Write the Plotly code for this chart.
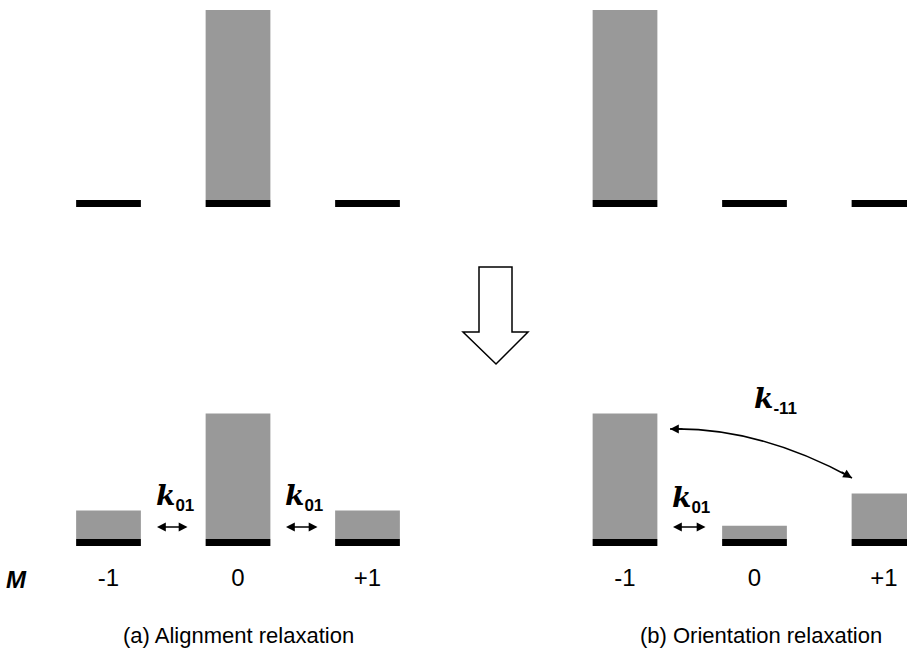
import plotly.graph_objects as go

# ---------------- data ----------------
M_VALUES = [-1, 0, 1]
M_TICKS = ["-1", "0", "+1"]

# populations (relative, initial max = 1)
top_alignment = [0.0, 1.0, 0.0]
top_orientation = [1.0, 0.0, 0.0]
bottom_alignment = [0.15, 0.66, 0.15]
bottom_orientation = [0.66, 0.07, 0.24]

caption_a = "(a) Alignment relaxation"
caption_b = "(b) Orientation relaxation"

# ---------------- layout helpers (pixel geometry) ----------------
W, H = 907, 653
def fx(px):
    return px / W
def fy(py):
    return 1 - py / H

SCALE = 190.0      # px per population unit
UNIT_X = 129.5     # px per M step
LEVEL = 7 / SCALE  # thickness of the black level line (in data units)
GRAY = "#999999"
SANS = "Liberation Sans, Arial, sans-serif"

fig = go.Figure()

panels = [
    # (values, xaxis, yaxis, center of M=-1 px, baseline px, top px, bottom px, show ticks)
    (top_alignment, "x", "y", 108.5, 200, 0, 215, False),
    (top_orientation, "x2", "y2", 625.0, 200, 0, 215, False),
    (bottom_alignment, "x3", "y3", 108.5, 539, 380, 552, True),
    (bottom_orientation, "x4", "y4", 625.0, 539, 380, 552, True),
]

for i, (vals, xa, ya, c0, base, ptop, pbot, show) in enumerate(panels):
    fig.add_trace(go.Bar(x=M_VALUES, y=vals, base=0, width=0.5,
                         marker=dict(color=GRAY, line=dict(width=0)),
                         xaxis=xa, yaxis=ya, showlegend=False, hoverinfo="skip"))
    fig.add_trace(go.Bar(x=M_VALUES, y=[LEVEL] * len(M_VALUES), base=-LEVEL, width=0.5,
                         marker=dict(color="black", line=dict(width=0)),
                         xaxis=xa, yaxis=ya, showlegend=False, hoverinfo="skip"))
    x_left_px = c0 - 0.5 * UNIT_X
    x_right_px = min(x_left_px + 3 * UNIT_X, W)
    xr = [-1.5, -1.5 + (x_right_px - x_left_px) / UNIT_X]
    yr = [-(pbot - base) / SCALE, (base - ptop) / SCALE]
    suffix = "" if i == 0 else str(i + 1)
    fig.layout["xaxis" + suffix] = dict(
        domain=[fx(x_left_px), fx(x_right_px)], range=xr, anchor=ya,
        showgrid=False, zeroline=False, showline=False, ticks="",
        showticklabels=show, tickmode="array", tickvals=M_VALUES, ticktext=M_TICKS,
        tickfont=dict(family=SANS, size=24, color="black"),
        ticklabelstandoff=9, fixedrange=True)
    fig.layout["yaxis" + suffix] = dict(
        domain=[fy(pbot), fy(ptop)], range=yr, anchor=xa,
        showgrid=False, zeroline=False, showline=False, showticklabels=False,
        ticks="", fixedrange=True)

fig.update_layout(barmode="overlay")

ann_font = dict(family=SANS, size=22, color="black")
m_font = dict(family=SANS, size=24, color="black")
k_font = dict(family="DejaVu Serif, serif", size=28, color="black")

def k_label(sub):
    return ("<b><i>k</i></b><sub><span style='font-family:Liberation Sans, Arial, sans-serif;"
            "font-weight:bold;font-size:17px'>" + sub + "</span></sub>")

annotations = [
    dict(x=fx(16), y=fy(579), text="<b><i>M</i></b>", font=m_font),
    dict(x=fx(239), y=fy(635), text=caption_a, font=ann_font),
    dict(x=fx(761), y=fy(635), text=caption_b, font=ann_font),
    dict(x=fx(175), y=fy(497), text=k_label("01"), font=k_font),
    dict(x=fx(304), y=fy(497), text=k_label("01"), font=k_font),
    dict(x=fx(691), y=fy(499), text=k_label("01"), font=k_font),
    dict(x=fx(775), y=fy(400), text=k_label("-11"), font=k_font),
]
for a in annotations:
    a.update(xref="paper", yref="paper", showarrow=False, xanchor="center", yanchor="middle")

# double-headed straight arrows
for x0, x1 in [(157, 189), (286, 319), (673, 707)]:
    annotations.append(dict(x=fx(x0), y=fy(527), ax=x1 - x0, ay=0, xref="paper", yref="paper",
                            text="", showarrow=True, arrowside="end+start", arrowhead=2,
                            arrowsize=1.1, arrowwidth=1.6, arrowcolor="black"))

# arrowheads on the curved arrow
annotations.append(dict(x=fx(670), y=fy(429), ax=14, ay=0, xref="paper", yref="paper", text="",
                        showarrow=True, arrowhead=2, arrowsize=1.1, arrowwidth=1.6, arrowcolor="black"))
annotations.append(dict(x=fx(852), y=fy(478), ax=-12, ay=-7, xref="paper", yref="paper", text="",
                        showarrow=True, arrowhead=2, arrowsize=1.1, arrowwidth=1.6, arrowcolor="black"))

shapes = [
    dict(type="path", xref="paper", yref="paper",
         path=f"M {fx(670)},{fy(429)} Q {fx(759)},{fy(427)} {fx(852)},{fy(478)}",
         line=dict(color="black", width=1.6)),
    dict(type="path", xref="paper", yref="paper",
         path=(f"M {fx(479)},{fy(267)} L {fx(512)},{fy(267)} L {fx(512)},{fy(332)} "
               f"L {fx(528)},{fy(332)} L {fx(496)},{fy(364)} L {fx(463)},{fy(332)} "
               f"L {fx(479)},{fy(332)} Z"),
         fillcolor="white", line=dict(color="black", width=1.5)),
]

fig.update_layout(width=W, height=H, margin=dict(l=0, r=0, t=0, b=0),
                  paper_bgcolor="white", plot_bgcolor="rgba(0,0,0,0)",
                  annotations=annotations, shapes=shapes)

fig.write_html("out.html", config={"displayModeBar": False})
